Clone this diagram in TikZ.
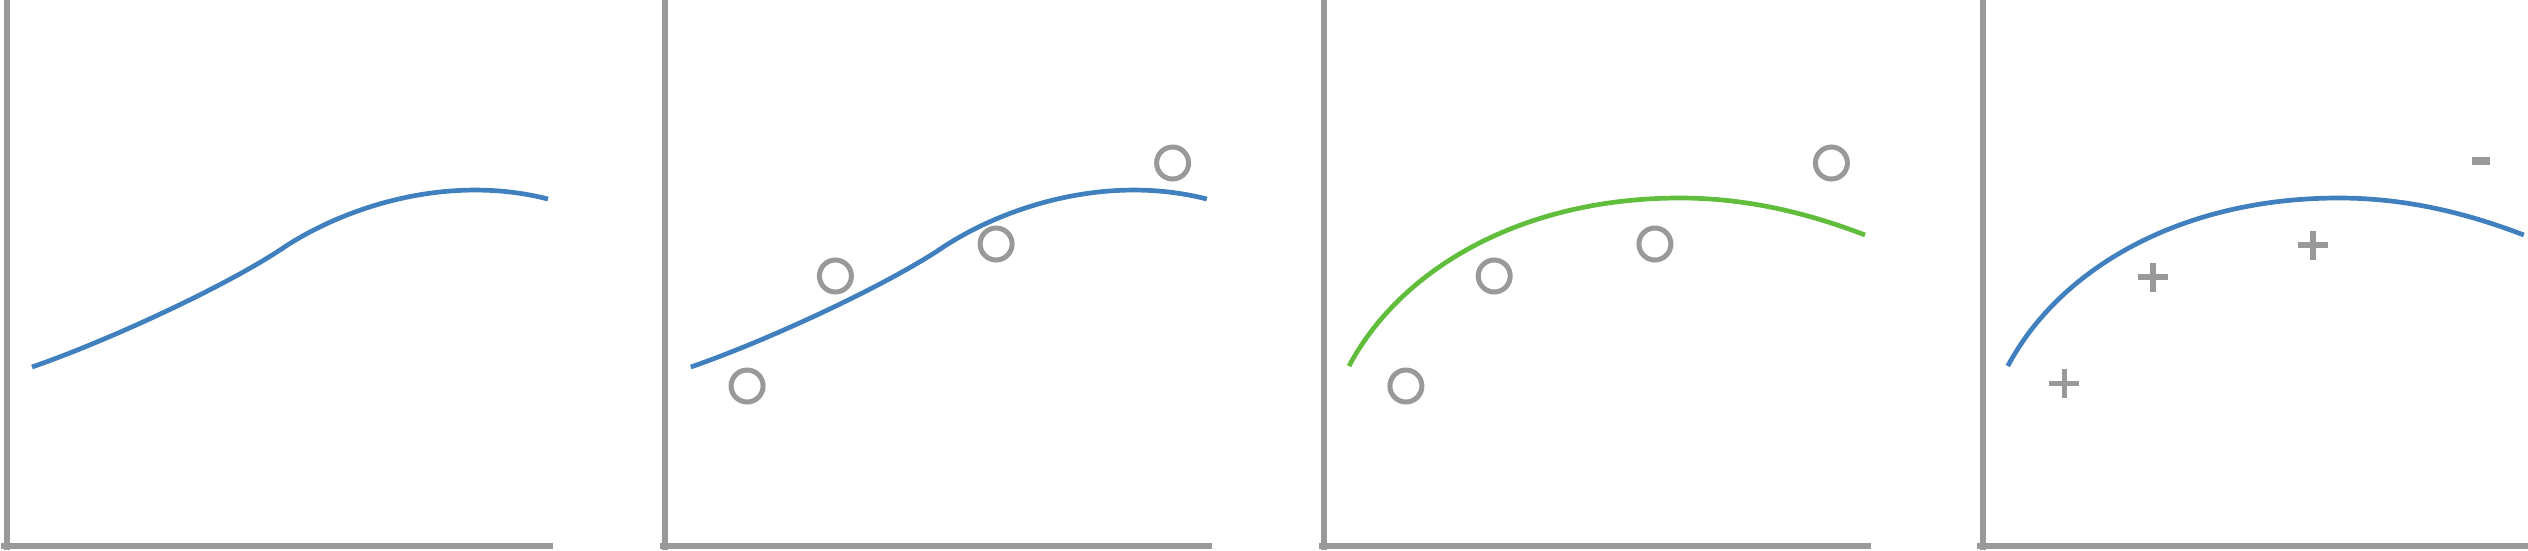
\documentclass[tikz,border=0pt]{standalone}
\definecolor{axisgray}{RGB}{153,153,153}
\definecolor{curveblue}{RGB}{65,128,190}
\definecolor{curvegreen}{RGB}{96,190,60}
\newcommand\panelaxes{%
  \draw[axisline] (0,0) -- (0,550);
  \draw[axisline,line width=5.7pt] (-5.5,546) -- (546.5,546);}
\newcommand\sigmoidpath{(25.5,367) .. controls (103.5,340) and (221.5,285) .. (276.5,248) .. controls (336.5,208) and (439.5,173) .. (541.5,199)}
\newcommand\concavepath{(24.9,366) .. controls (75.9,270) and (195.9,198) .. (355.9,198) .. controls (415.9,198) and (475.9,210) .. (540.9,235)}
\begin{document}
\begin{tikzpicture}[x=1pt,y=-1pt,
  axisline/.style={draw=axisgray,line width=6pt},
  fitcurve/.style={line width=4.7pt},
  datacircle/.style={draw=axisgray,line width=5pt},
  datamark/.style={draw=axisgray,line width=5.5pt}]
\useasboundingbox (0,0) rectangle (2528,550);
% panel 1
\begin{scope}[xshift=6.5pt]
  \panelaxes
  \draw[fitcurve,curveblue] \sigmoidpath;
\end{scope}
% panel 2
\begin{scope}[xshift=665.3pt]
  \panelaxes
  \draw[fitcurve,curveblue] \sigmoidpath;
  \draw[datacircle] (81.8,386) circle[radius=16];
  \draw[datacircle] (170.1,276) circle[radius=16];
  \draw[datacircle] (330.8,244) circle[radius=16];
  \draw[datacircle] (507.3,163) circle[radius=16];
\end{scope}
% panel 3
\begin{scope}[xshift=1324.1pt]
  \panelaxes
  \draw[fitcurve,curvegreen] \concavepath;
  \draw[datacircle] (81.8,386) circle[radius=16];
  \draw[datacircle] (170.1,276) circle[radius=16];
  \draw[datacircle] (330.8,244) circle[radius=16];
  \draw[datacircle] (507.3,163) circle[radius=16];
\end{scope}
% panel 4
\begin{scope}[xshift=1982.9pt]
  \panelaxes
  \draw[fitcurve,curveblue] \concavepath;
  \draw[datamark] (66.4,383.3) -- (96.4,383.3) (81.4,368.8) -- (81.4,397.8);
  \draw[datamark] (155.1,277) -- (185.1,277) (170.1,262.5) -- (170.1,291.5);
  \draw[datamark] (315.1,245) -- (345.1,245) (330.1,230.5) -- (330.1,259.5);
  \draw[draw=axisgray,line width=7.5pt] (489.5,161) -- (507.5,161);
\end{scope}
\end{tikzpicture}
\end{document}
